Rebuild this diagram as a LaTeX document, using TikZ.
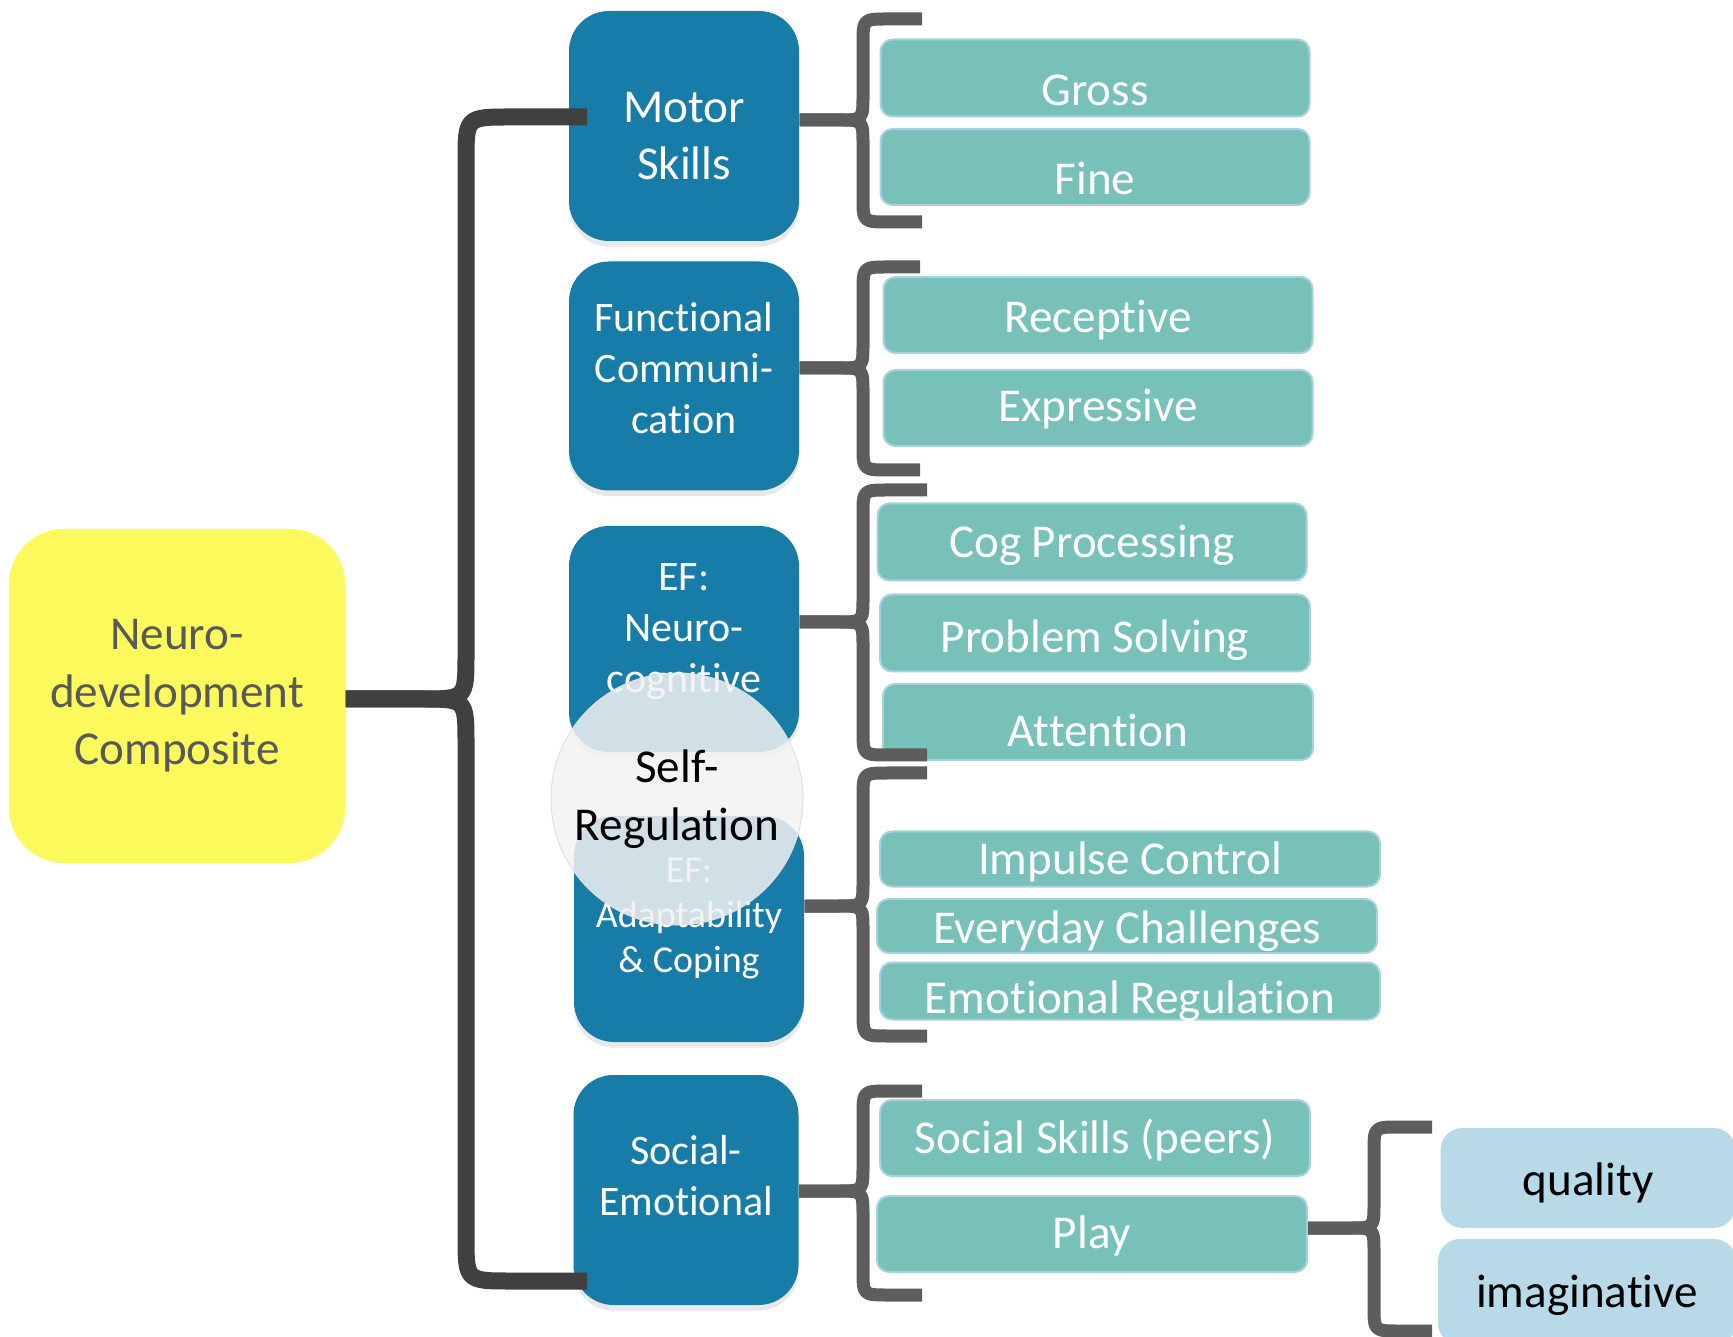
\documentclass[tikz,border=0pt]{standalone}
\usepackage{fontspec}
\setmainfont{Carlito}[Ligatures=NoCommon]
\usetikzlibrary{shadows}
\definecolor{NdYellow}{RGB}{252,249,92}
\definecolor{NdBlue}{RGB}{24,124,168}
\definecolor{NdTeal}{RGB}{119,193,184}
\definecolor{NdTealLine}{RGB}{168,208,224}
\definecolor{NdLight}{RGB}{184,217,232}
\definecolor{NdMist}{RGB}{242,242,242}
\definecolor{NdDark}{RGB}{64,64,66}
\definecolor{NdGrey}{RGB}{93,93,93}
\definecolor{NdText}{RGB}{89,89,89}
\newlength{\px}
\setlength{\px}{0.01cm}
% #1 style, #2 parent node, #3 tip y, #4 spine x, #5 arm x, #6 top y, #7 bottom y, #8 bend
\newcommand{\grpbrace}[8]{%
  \coordinate (#2-tip) at (#4,#3);
  \draw[#1] (#5,#6) -- (#4+#8,#6) .. controls (#4,#6) .. (#4,#6+#8)
    -- (#4,#3-#8) .. controls (#2-tip) .. (#4-#8,#3) -- (#2.east |- #2-tip);
  \draw[#1] (#5,#7) -- (#4+#8,#7) .. controls (#4,#7) .. (#4,#7-#8)
    -- (#4,#3+#8) .. controls (#2-tip) .. (#4-#8,#3) -- (#2.east |- #2-tip);
}
\begin{document}
\begin{tikzpicture}[x=1\px,y=-1\px,
  rootbox/.style={fill=NdYellow,rounded corners=55\px,minimum width=336\px,minimum height=334\px,text=NdText,align=center,font=\fontsize{13.4}{16.3}\selectfont},
  catbox/.style 2 args={fill=NdBlue,rounded corners=40\px,minimum width=#1\px,minimum height=#2\px,inner sep=0pt,drop shadow={opacity=0.18,shadow xshift=0pt,shadow yshift=-1.6pt}},
  cattxt/.style 2 args={inner sep=0pt,text=white,align=center,font=\fontsize{#1}{#2}\selectfont},
  subbox/.style n args={3}{fill=NdTeal,draw=NdTealLine,line width=2\px,rounded corners=12\px,minimum width=#1\px,minimum height=#2\px,inner sep=0pt,text height=#3\px,text depth=0pt,text=white,font=\fontsize{13.4}{16.3}\selectfont},
  leafbox/.style n args={3}{fill=NdLight,rounded corners=22\px,minimum width=#1\px,minimum height=#2\px,inner sep=0pt,text height=#3\px,text depth=0pt,text=black,font=\fontsize{13.4}{16.3}\selectfont},
  hubcirc/.style={circle,minimum size=252\px,inner sep=0pt,fill=NdMist,fill opacity=0.85,text opacity=1,draw=black!12,line width=1\px,align=center,font=\fontsize{13.4}{16.5}\selectfont},
  brc/.style={draw=NdGrey,line width=13\px,line join=round},
  bigbrc/.style={draw=NdDark,line width=17\px,line join=round}]
\useasboundingbox (0,0) rectangle (1733,1337);
% composite
\node[rootbox] (ndc) at (177,696) {Neuro-\\development\\Composite};
% domains
\node[catbox={230}{230}] (motor) at (684,126) {};
\node[catbox={230}{229}] (comm) at (684,376) {};
\node[catbox={230}{226}] (neuro) at (684,639) {};
\node[catbox={230}{226}] (adapt) at (689,929) {};
\node[catbox={225}{230}] (socemo) at (686,1190) {};
\node[cattxt={13.4}{16.2}] (motor-lbl) at (684,136) {Motor\\Skills};
\node[cattxt={11.95}{14.5}] (comm-lbl) at (684,368) {Functional\\Communi-\\cation};
\node[cattxt={11.95}{14.5}] (neuro-lbl) at (684,632) {EF:\\Neuro-\\cognitive};
\node[cattxt={10.8}{12.8}] (adapt-lbl) at (689,919) {EF:\\Adaptability\\\& Coping};
\node[cattxt={11.95}{14.5}] (socemo-lbl) at (686,1176) {Social-\\Emotional};
% sub-domains
\node[subbox={429}{77}{56}] (gross) at (1095,78) {Gross};
\node[subbox={429}{76}{56}] (fine) at (1095,167) {Fine};
\node[subbox={429}{76}{36}] (recep) at (1098,315) {Receptive};
\node[subbox={429}{76}{28}] (expr) at (1098,408) {Expressive};
\node[subbox={429}{77}{31}] (cogp) at (1092,542) {Cog Processing};
\node[subbox={430}{77}{40}] (probs) at (1095,633) {Problem Solving};
\node[subbox={430}{76}{50}] (attn) at (1098,722) {Attention};
\node[subbox={500}{55}{30}] (impc) at (1130,859) {Impulse Control};
\node[subbox={500}{54}{35}] (everyd) at (1127,926) {Everyday Challenges};
\node[subbox={500}{57}{44}] (emoreg) at (1130,991) {Emotional Regulation};
\node[subbox={430}{76}{30}] (socsk) at (1095,1138) {Social Skills (peers)};
\node[subbox={430}{76}{28}] (play) at (1092,1234) {Play};
\node[leafbox={295}{100}{35}] (quality) at (1588,1178) {quality};
\node[leafbox={298}{106}{30}] (imagin) at (1587,1292) {imaginative};
% braces
\grpbrace{bigbrc}{ndc}{699}{466}{587}{117}{1281}{45}
\grpbrace{brc}{motor}{120}{863}{922}{19}{222}{25}
\grpbrace{brc}{comm}{368}{863}{920}{267}{470}{25}
\grpbrace{brc}{neuro}{622}{863}{927}{490}{755}{25}
\grpbrace{brc}{adapt}{906}{863}{927}{773}{1036}{25}
\grpbrace{brc}{socemo}{1191}{863}{922}{1091}{1295}{25}
\grpbrace{brc}{play}{1228}{1374}{1432}{1127}{1331}{25}
% overlay
\node[hubcirc] (selfreg) at (677,799) {Self-\\Regulation};
\end{tikzpicture}
\end{document}
